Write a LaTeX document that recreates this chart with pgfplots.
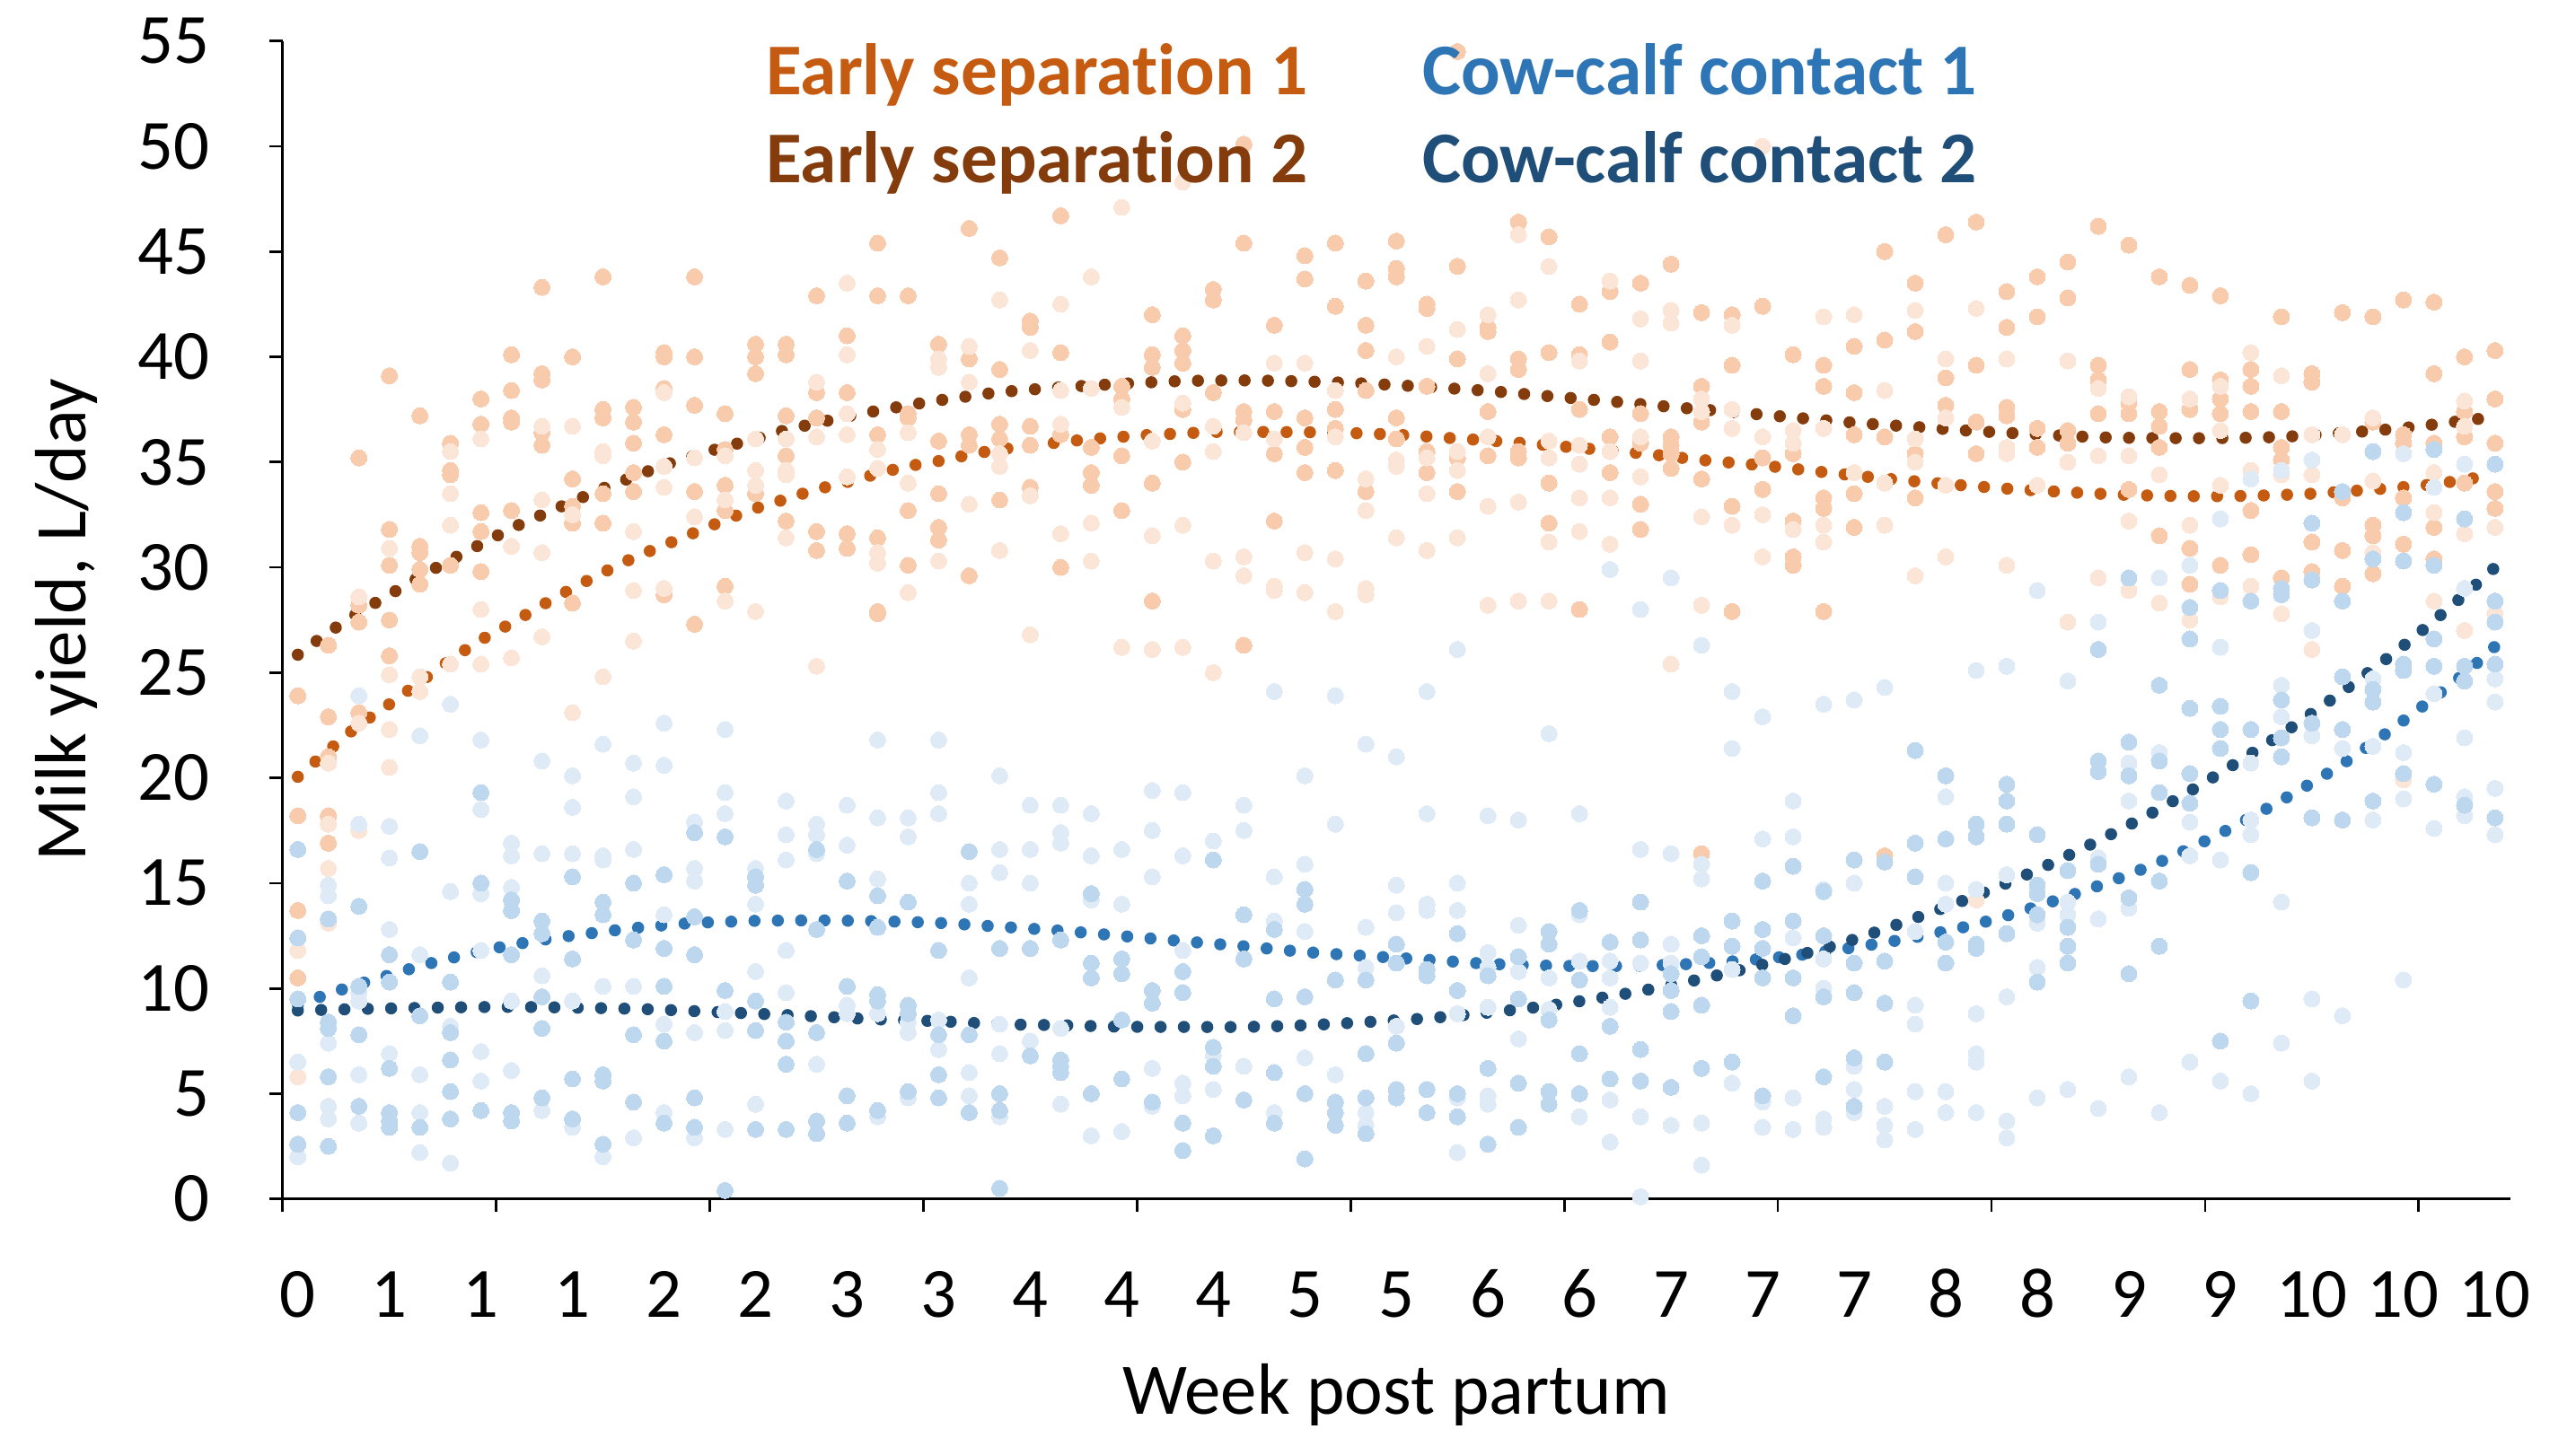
\documentclass[border=0pt]{standalone}
\usepackage{fontspec}
\setmainfont{Carlito}[Ligatures={NoCommon}]
\usepackage{pgfplots}
\pgfplotsset{compat=1.18}
\definecolor{esA}{HTML}{C55A11}
\definecolor{esB}{HTML}{843C0C}
\definecolor{ccA}{HTML}{2E75B6}
\definecolor{ccB}{HTML}{1F4E79}
\definecolor{oM}{HTML}{F8CBAD}
\definecolor{oL}{HTML}{FBE5D6}
\definecolor{bM}{HTML}{BDD7EE}
\definecolor{bL}{HTML}{DEEBF7}
\newcommand{\bigfont}{\fontsize{21.5pt}{26pt}\selectfont}
\newcommand{\labfont}{\fontsize{22.1pt}{26pt}\selectfont}
\newcommand{\legfont}{\fontsize{22.2pt}{26pt}\selectfont}
\begin{document}
\begin{tikzpicture}
\path[use as bounding box] (-86pt,-70pt) rectangle (698pt,365pt);
\begin{axis}[
  at={(0,0)}, anchor=south west,
  scale only axis, width=678pt, height=352.5pt,
  xmin=0.5, xmax=73.5, ymin=0, ymax=55,
  clip=false,
  axis x line*=bottom, axis y line*=left,
  axis line style={line width=0.75pt, black},
  tick align=outside, major tick length=4pt,
  tick style={line width=0.75pt, black},
  xtick={0.5,7.5,...,70.5}, xticklabels={},
  extra x ticks={1,4,...,73},
  extra x tick labels={0,1,1,1,2,2,3,3,4,4,4,5,5,6,6,7,7,7,8,8,9,9,10,10,10},
  extra x tick style={major tick length=0pt, grid=none},
  ytick={0,5,...,55},
  /pgf/number format/assume math mode=true,
  tick label style={font=\bigfont, text=black},
  yticklabel style={anchor=east, inner sep=0pt, xshift=-18pt},
  xticklabel style={anchor=base, inner sep=0pt, yshift=-36pt},
  every axis x label/.style={at={(axis description cs:0.5,-0.1858)}, anchor=base, font=\labfont},
  every axis y label/.style={at={(axis description cs:-0.0885,0.5)}, anchor=base, rotate=90, font=\labfont},
  xlabel={Week post partum},
  ylabel={Milk yield, L/day},
  mark size=2.45pt,
  scatter/.style={only marks, mark=*, line width=0pt, color=#1, mark options={fill=#1, draw=#1, line width=0pt}},
  trend/.style={smooth, no marks, color=#1, line width=3.7pt, line cap=round, dash pattern=on 0pt off 7.1pt},
]
% Early separation scatter (medium shade)
\addplot[scatter=oM] coordinates {
(1,23.9)(1,18.2)(1,13.7)(1,10.5)
(2,26.3)(2,22.9)(2,21.0)(2,18.2)(2,16.9)
(3,35.2)(3,28.2)(3,27.4)(3,23.1)
(4,39.1)(4,31.8)(4,30.1)(4,27.5)(4,25.8)
(5,37.2)(5,31.0)(5,30.7)(5,29.9)(5,29.2)
(6,35.9)(6,34.6)(6,34.4)(6,30.1)
(7,38.0)(7,36.8)(7,32.6)(7,31.7)(7,29.8)
(8,40.1)(8,38.4)(8,37.1)(8,36.9)(8,32.7)
(9,43.3)(9,39.2)(9,38.9)(9,36.4)(9,35.8)
(10,40.0)(10,34.2)(10,32.9)(10,32.1)(10,28.3)
(11,43.8)(11,37.5)(11,37.1)(11,33.5)(11,32.1)
(12,37.6)(12,36.9)(12,35.9)(12,34.5)(12,33.6)
(13,40.2)(13,40.0)(13,38.5)(13,36.3)(13,28.7)
(14,43.8)(14,40.0)(14,37.7)(14,33.6)(14,27.3)
(15,37.3)(15,35.6)(15,33.9)(15,32.7)(15,29.1)
(16,40.6)(16,40.0)(16,39.2)(16,33.5)
(17,40.6)(17,40.1)(17,37.2)(17,35.3)(17,32.2)
(18,42.9)(18,38.3)(18,37.1)(18,31.7)(18,30.8)
(19,41.0)(19,38.3)(19,31.6)(19,30.9)
(20,45.4)(20,42.9)(20,36.3)(20,31.4)(20,27.9)(20,27.8)
(21,42.9)(21,37.3)(21,37.1)(21,32.7)(21,30.1)
(22,40.6)(22,36.0)(22,33.5)(22,31.9)(22,31.3)
(23,46.1)(23,39.9)(23,36.3)(23,35.8)(23,29.6)
(24,44.7)(24,39.4)(24,36.8)(24,36.1)(24,33.2)
(25,41.7)(25,41.4)(25,36.7)(25,35.8)(25,33.8)
(26,46.7)(26,40.2)(26,36.3)(26,30.0)
(27,35.7)(27,34.5)(27,33.9)
(28,38.6)(28,38.0)(28,35.3)(28,32.7)
(29,42.0)(29,40.1)(29,39.5)(29,34.0)(29,28.4)
(30,41.0)(30,40.3)(30,39.7)(30,37.5)(30,35.0)
(31,43.2)(31,42.7)(31,38.3)
(32,50.1)(32,45.4)(32,37.4)(32,37.0)(32,26.3)
(33,41.5)(33,37.4)(33,35.4)(33,32.2)
(34,44.8)(34,43.7)(34,37.1)(34,35.7)(34,34.5)
(35,45.4)(35,42.4)(35,37.5)(35,36.6)(35,34.6)
(36,43.6)(36,41.5)(36,40.3)(36,38.4)(36,33.6)
(37,45.5)(37,44.2)(37,43.8)(37,37.1)(37,36.1)
(38,42.5)(38,42.3)(38,38.6)(38,35.5)(38,34.5)
(39,54.5)(39,44.3)(39,39.9)(39,35.2)(39,33.6)
(40,41.4)(40,41.2)(40,37.4)(40,35.3)
(41,46.4)(41,39.9)(41,39.4)(41,35.5)(41,35.2)
(42,45.7)(42,40.2)(42,34.0)(42,32.1)
(43,42.5)(43,40.1)(43,37.5)(43,28.0)
(44,43.1)(44,40.7)(44,36.2)(44,34.5)
(45,43.5)(45,37.3)(45,35.9)(45,33.0)(45,31.8)
(46,44.4)(46,36.2)(46,35.8)(46,35.4)(46,34.7)
(47,42.1)(47,38.6)(47,36.9)(47,34.2)(47,16.4)
(48,42.0)(48,39.6)(48,32.9)(48,27.9)
(49,42.4)(49,35.2)(49,33.7)
(50,40.1)(50,35.4)(50,32.2)(50,30.5)(50,30.1)
(51,39.6)(51,38.6)(51,33.3)(51,32.8)(51,27.9)
(52,40.5)(52,38.3)(52,36.3)(52,33.5)(52,31.9)
(53,45.0)(53,40.8)(53,36.2)(53,16.3)
(54,43.5)(54,41.2)(54,35.4)(54,33.3)
(55,45.8)(55,39.0)(55,37.7)
(56,46.4)(56,39.6)(56,36.9)(56,35.4)
(57,43.1)(57,41.4)(57,37.6)(57,37.2)
(58,43.8)(58,41.9)(58,36.6)(58,35.7)
(59,44.5)(59,42.8)(59,36.5)(59,35.9)
(60,46.2)(60,39.6)(60,38.9)(60,37.3)
(61,45.3)(61,37.8)(61,37.3)(61,33.7)
(62,43.8)(62,37.4)(62,36.7)(62,35.7)(62,31.5)
(63,43.4)(63,39.4)(63,37.5)(63,30.9)(63,29.2)
(64,42.9)(64,38.9)(64,38.0)(64,37.3)(64,30.1)
(65,39.4)(65,38.6)(65,37.4)(65,32.7)(65,30.6)
(66,41.9)(66,37.4)(66,35.7)(66,35.1)(66,29.5)
(67,39.2)(67,38.8)(67,31.2)(67,29.8)
(68,42.1)(68,33.3)(68,30.8)(68,29.1)
(69,41.9)(69,36.9)(69,32.0)(69,31.5)(69,29.7)
(70,42.7)(70,36.3)(70,35.9)(70,33.3)(70,31.1)
(71,42.6)(71,39.2)(71,35.9)(71,31.9)(71,30.4)
(72,40.0)(72,37.4)(72,36.2)(72,34.0)
(73,40.3)(73,38.0)(73,35.9)(73,33.6)(73,32.8)
};
% Early separation scatter (light shade)
\addplot[scatter=oL] coordinates {
(1,11.8)(1,5.8)
(2,20.7)(2,17.8)(2,15.7)(2,13.1)
(3,28.6)(3,22.6)(3,17.5)
(4,30.9)(4,24.9)(4,22.3)(4,20.5)
(5,24.8)(5,24.1)
(6,35.5)(6,33.5)(6,32.0)(6,25.4)
(7,36.1)(7,28.0)(7,25.4)
(8,31.0)(8,25.7)
(9,36.7)(9,33.2)(9,30.7)(9,26.7)
(10,36.7)(10,32.5)(10,23.1)
(11,35.5)(11,35.3)(11,24.8)
(12,31.7)(12,28.9)(12,26.5)
(13,38.3)(13,34.8)(13,33.8)(13,29.0)
(14,35.2)(14,32.4)
(15,35.3)(15,33.2)(15,28.4)
(16,36.1)(16,34.6)(16,33.9)(16,27.9)
(17,36.1)(17,34.6)(17,34.4)(17,31.4)
(18,38.8)(18,36.2)(18,25.3)
(19,43.5)(19,40.1)(19,37.3)(19,36.3)(19,34.3)
(20,35.6)(20,34.7)(20,30.7)(20,30.2)
(21,36.4)(21,34.0)(21,28.8)
(22,39.9)(22,39.5)(22,30.3)
(23,40.5)(23,38.8)(23,33.0)
(24,42.7)(24,35.4)(24,34.8)(24,30.8)
(25,40.3)(25,33.4)(25,26.8)
(26,42.5)(26,38.4)(26,36.8)(26,31.6)
(27,43.8)(27,38.5)(27,32.1)(27,30.3)
(28,47.1)(28,37.6)(28,26.2)
(29,36.0)(29,31.5)(29,26.1)
(30,48.3)(30,37.8)(30,32.0)(30,26.2)
(31,36.7)(31,35.5)(31,30.3)(31,25.0)
(32,36.4)(32,30.5)(32,29.6)
(33,39.7)(33,36.1)(33,29.1)(33,28.9)
(34,39.7)(34,30.7)(34,28.8)
(35,38.4)(35,36.2)(35,30.4)(35,27.9)
(36,34.2)(36,32.7)(36,29.0)(36,28.7)
(37,40.0)(37,35.1)(37,34.8)(37,31.4)
(38,40.5)(38,35.2)(38,33.5)(38,30.8)
(39,41.3)(39,35.5)(39,34.6)(39,31.4)
(40,42.0)(40,39.2)(40,36.2)(40,32.9)(40,28.2)
(41,45.8)(41,42.7)(41,33.1)(41,28.4)
(42,44.3)(42,36.0)(42,35.2)(42,31.2)(42,28.4)
(43,39.8)(43,35.8)(43,34.9)(43,33.3)(43,31.7)
(44,43.6)(44,35.5)(44,33.3)(44,31.1)
(45,41.8)(45,39.8)(45,36.2)(45,34.3)
(46,42.2)(46,41.6)(46,25.4)
(47,38.0)(47,37.4)(47,32.4)(47,28.2)
(48,41.5)(48,37.5)(48,36.6)(48,32.0)
(49,50.0)(49,36.2)(49,32.5)(49,30.5)
(50,36.5)(50,35.9)(50,31.8)
(51,41.9)(51,36.6)(51,32.0)(51,31.2)
(52,42.0)(52,34.5)
(53,38.4)(53,34.0)(53,32.0)
(54,42.2)(54,36.1)(54,35.0)(54,29.6)
(55,39.9)(55,37.1)(55,33.9)(55,30.5)
(56,42.3)(56,14.2)
(57,39.9)(57,35.7)(57,35.4)(57,30.1)
(58,33.9)
(59,39.8)(59,35.0)(59,27.4)
(60,38.5)(60,35.3)(60,29.5)
(61,38.1)(61,35.3)(61,32.2)(61,28.9)
(62,34.4)(62,28.3)
(63,38.0)(63,32.0)(63,27.5)
(64,38.6)(64,36.5)(64,33.9)(64,28.6)
(65,40.2)(65,34.6)(65,29.1)
(66,39.1)(66,34.4)(66,27.8)
(67,36.3)(67,34.4)(67,26.1)
(68,36.3)
(69,37.1)(69,34.1)(69,30.7)
(70,19.9)
(71,34.5)(71,32.6)(71,28.4)
(72,37.9)(72,36.7)(72,31.6)(72,27.0)
(73,31.9)(73,27.8)
};
% Cow-calf contact scatter (light shade)
\addplot[scatter=bL] coordinates {
(1,6.5)(1,2.0)
(2,14.9)(2,14.4)(2,7.4)(2,4.4)(2,3.8)
(3,23.9)(3,17.8)(3,9.8)(3,9.4)(3,5.9)(3,3.6)
(4,17.7)(4,16.2)(4,12.8)(4,6.9)
(5,22.0)(5,11.6)(5,5.9)(5,4.1)(5,2.2)
(6,23.5)(6,14.6)(6,8.2)(6,1.7)
(7,21.8)(7,18.5)(7,14.5)(7,11.8)(7,7.0)(7,5.6)
(8,16.9)(8,16.3)(8,14.8)(8,9.4)(8,6.1)
(9,20.8)(9,16.4)(9,10.6)(9,4.2)
(10,20.1)(10,18.6)(10,16.4)(10,9.4)(10,3.4)
(11,21.6)(11,16.3)(11,16.1)(11,10.1)(11,2.0)
(12,20.7)(12,19.1)(12,16.6)(12,10.1)(12,2.9)
(13,22.6)(13,20.6)(13,13.5)(13,8.3)(13,4.1)
(14,17.9)(14,15.7)(14,15.1)(14,7.9)(14,2.9)
(15,22.3)(15,19.3)(15,18.3)(15,8.9)(15,8.0)(15,3.3)
(16,15.7)(16,14.0)(16,10.8)(16,4.5)
(17,18.9)(17,17.3)(17,16.1)(17,11.8)(17,9.8)
(18,17.8)(18,17.3)(18,16.4)(18,6.4)
(19,18.7)(19,16.8)(19,9.2)(19,8.8)
(20,21.8)(20,18.1)(20,15.2)(20,8.8)(20,3.9)
(21,18.1)(21,17.2)(21,8.4)(21,7.9)(21,4.8)
(22,21.8)(22,19.3)(22,18.3)(22,8.5)(22,7.1)
(23,15.0)(23,14.0)(23,10.5)(23,6.0)(23,4.9)
(24,20.1)(24,16.6)(24,15.5)(24,8.3)(24,6.9)(24,3.9)
(25,18.7)(25,16.6)(25,15.0)(25,7.5)
(26,18.7)(26,17.4)(26,16.9)(26,8.1)(26,4.5)
(27,18.3)(27,16.3)(27,14.2)(27,3.0)
(28,16.6)(28,14.0)(28,3.2)
(29,19.4)(29,17.5)(29,15.3)(29,6.2)(29,4.4)
(30,19.3)(30,16.3)(30,11.8)(30,5.5)(30,4.9)
(31,17.0)(31,6.8)(31,5.2)
(32,18.7)(32,17.5)(32,6.3)
(33,24.1)(33,15.3)(33,13.2)(33,4.1)
(34,20.1)(34,15.9)(34,12.7)(34,6.7)
(35,23.9)(35,17.8)(35,5.9)
(36,21.6)(36,12.9)(36,11.0)(36,4.1)(36,3.5)
(37,21.0)(37,14.9)(37,13.6)(37,8.2)
(38,24.1)(38,18.3)(38,14.0)(38,13.7)
(39,26.1)(39,15.0)(39,13.7)(39,8.8)(39,4.8)(39,2.2)
(40,18.2)(40,11.7)(40,11.0)(40,9.1)(40,4.9)(40,4.5)
(41,18.0)(41,13.0)(41,10.8)(41,7.6)
(42,22.1)(42,10.5)(42,9.0)
(43,18.3)(43,13.5)(43,11.3)(43,3.9)
(44,29.9)(44,11.3)(44,10.5)(44,9.1)(44,4.7)(44,2.7)
(45,28.0)(45,16.6)(45,11.2)(45,3.9)(45,0.1)
(46,29.5)(46,16.4)(46,12.1)(46,11.2)(46,3.5)
(47,26.3)(47,15.9)(47,15.2)(47,3.6)(47,1.6)
(48,24.1)(48,21.4)(48,10.9)(48,5.5)
(49,22.9)(49,17.1)(49,4.6)(49,3.4)
(50,18.9)(50,17.2)(50,12.4)(50,4.8)(50,3.3)
(51,23.5)(51,14.7)(51,11.4)(51,10.0)(51,3.8)(51,3.4)
(52,23.7)(52,15.0)(52,6.3)(52,5.2)(52,4.1)
(53,24.3)(53,4.4)(53,3.5)(53,2.8)
(54,12.7)(54,9.2)(54,8.3)(54,5.1)(54,3.3)
(55,19.1)(55,15.0)(55,14.0)(55,5.1)(55,4.1)
(56,25.1)(56,14.7)(56,8.8)(56,6.9)(56,6.5)(56,4.1)
(57,25.3)(57,15.4)(57,9.6)(57,3.7)(57,2.9)
(58,28.9)(58,13.1)(58,11.0)(58,4.8)
(59,24.6)(59,14.1)(59,13.5)(59,5.2)
(60,27.4)(60,16.2)(60,13.3)(60,4.3)
(61,20.7)(61,18.9)(61,13.8)(61,5.8)
(62,29.5)(62,21.2)(62,4.1)
(63,30.1)(63,17.9)(63,16.3)(63,6.5)
(64,32.3)(64,26.2)(64,16.1)(64,5.6)
(65,34.2)(65,20.7)(65,18.0)(65,17.3)(65,5.0)
(66,34.6)(66,24.4)(66,22.9)(66,14.1)(66,7.4)
(67,35.1)(67,27.0)(67,22.0)(67,9.5)(67,5.6)
(68,21.4)(68,8.7)
(69,24.7)(69,21.5)(69,18.0)
(70,35.4)(70,21.2)(70,19.0)(70,10.4)
(71,33.8)(71,24.0)(71,17.6)
(72,34.9)(72,29.0)(72,21.9)(72,19.1)(72,18.2)
(73,24.7)(73,23.6)(73,19.5)(73,17.3)
};
% Cow-calf contact scatter (medium shade)
\addplot[scatter=bM] coordinates {
(1,16.6)(1,12.4)(1,9.5)(1,4.1)(1,2.6)
(2,13.3)(2,8.4)(2,8.1)(2,5.8)(2,2.5)
(3,13.9)(3,10.1)(3,7.8)(3,4.4)
(4,11.6)(4,10.3)(4,6.2)(4,4.1)(4,3.7)(4,3.4)
(5,16.5)(5,8.7)(5,3.4)
(6,10.3)(6,7.9)(6,6.6)(6,5.1)(6,3.8)
(7,19.3)(7,15.0)(7,4.2)
(8,14.2)(8,13.7)(8,11.6)(8,4.1)(8,3.7)
(9,13.2)(9,12.6)(9,9.6)(9,8.1)(9,4.8)
(10,15.3)(10,11.4)(10,5.7)(10,3.8)
(11,14.1)(11,13.5)(11,5.9)(11,5.6)(11,2.6)
(12,15.0)(12,12.3)(12,7.8)(12,4.6)
(13,15.4)(13,11.9)(13,10.1)(13,7.5)(13,3.6)
(14,17.4)(14,13.4)(14,11.6)(14,4.8)(14,3.4)
(15,17.2)(15,9.9)(15,0.4)
(16,15.3)(16,14.9)(16,9.4)(16,8.0)(16,3.3)
(17,8.4)(17,7.5)(17,6.4)(17,3.3)
(18,16.6)(18,12.8)(18,7.9)(18,3.7)(18,3.1)
(19,15.1)(19,10.1)(19,4.9)(19,3.6)
(20,14.4)(20,12.9)(20,9.7)(20,9.4)(20,4.2)
(21,14.1)(21,9.2)(21,8.8)(21,5.1)
(22,11.8)(22,7.8)(22,5.9)(22,4.8)
(23,16.5)(23,7.8)(23,4.1)
(24,11.9)(24,5.0)(24,4.2)(24,0.5)
(25,11.9)(25,6.8)
(26,12.3)(26,6.6)(26,6.3)(26,6.0)
(27,14.5)(27,11.2)(27,10.5)(27,5.0)
(28,11.4)(28,10.7)(28,8.5)(28,5.7)
(29,9.9)(29,9.3)(29,4.6)
(30,10.8)(30,9.8)(30,3.6)(30,2.3)
(31,16.1)(31,7.2)(31,6.3)(31,3.0)
(32,13.5)(32,11.4)(32,4.7)
(33,12.8)(33,9.5)(33,6.0)(33,3.6)
(34,14.7)(34,14.0)(34,9.6)(34,5.0)(34,1.9)
(35,10.4)(35,4.6)(35,4.1)(35,3.5)
(36,10.4)(36,6.9)(36,4.8)(36,3.1)
(37,12.1)(37,11.2)(37,7.4)(37,5.2)(37,4.8)
(38,10.9)(38,10.6)(38,5.2)(38,4.1)
(39,12.6)(39,9.9)(39,5.0)(39,3.9)
(40,10.6)(40,6.2)(40,2.6)
(41,11.5)(41,9.5)(41,5.5)(41,3.4)
(42,12.7)(42,12.1)(42,8.5)(42,5.1)(42,4.5)
(43,13.7)(43,10.4)(43,6.9)(43,5.0)
(44,12.2)(44,8.2)(44,5.7)
(45,14.1)(45,12.3)(45,7.1)(45,5.6)
(46,10.7)(46,9.9)(46,8.9)(46,5.3)
(47,12.5)(47,11.5)(47,9.2)(47,6.2)
(48,13.2)(48,12.0)(48,6.5)
(49,15.1)(49,12.8)(49,11.9)(49,10.5)(49,4.9)
(50,15.8)(50,13.2)(50,10.5)(50,8.7)
(51,14.6)(51,12.5)(51,9.6)(51,5.8)
(52,16.1)(52,11.2)(52,9.8)(52,6.7)(52,4.4)
(53,16.0)(53,11.3)(53,9.3)(53,6.5)
(54,21.3)(54,16.9)(54,15.3)
(55,20.1)(55,17.1)(55,12.2)(55,11.2)
(56,17.8)(56,17.2)(56,12.1)(56,11.9)
(57,19.7)(57,18.9)(57,17.8)(57,12.6)
(58,17.3)(58,14.9)(58,14.5)(58,13.5)(58,10.3)
(59,15.6)(59,12.9)(59,12.0)(59,11.2)
(60,26.1)(60,20.8)(60,20.3)(60,15.9)
(61,29.5)(61,21.7)(61,20.1)(61,14.3)(61,10.7)
(62,24.4)(62,20.8)(62,19.3)(62,15.1)(62,12.0)
(63,28.1)(63,26.6)(63,23.3)(63,20.2)(63,18.8)
(64,28.9)(64,23.4)(64,22.3)(64,21.4)(64,7.5)
(65,28.4)(65,22.3)(65,15.5)(65,9.4)
(66,29.0)(66,28.7)(66,23.7)(66,21.9)(66,21.0)
(67,32.1)(67,29.4)(67,22.6)(67,18.1)
(68,33.6)(68,28.4)(68,24.8)(68,22.3)(68,18.0)
(69,35.5)(69,30.4)(69,24.2)(69,23.6)(69,18.9)
(70,32.6)(70,30.3)(70,25.4)(70,25.1)(70,20.2)
(71,35.6)(71,30.1)(71,26.6)(71,25.3)(71,19.7)
(72,32.3)(72,25.3)(72,24.6)(72,18.7)
(73,34.9)(73,28.4)(73,27.4)(73,25.4)(73,18.1)
};
% Trend lines
\addplot[trend=esA] coordinates {
(1,20.05)(2,21.3)(3,22.5)(4,23.5)(5,24.55)(6,25.6)(7,26.55)(8,27.35)(9,28.2)(10,29.0)(11,29.75)(12,30.45)(13,31.05)(14,31.65)(15,32.25)(16,32.8)(17,33.25)(18,33.7)(19,34.05)(20,34.45)(21,34.8)(22,35.05)(23,35.35)(24,35.6)(25,35.76)(26,35.95)(27,36.09)(28,36.2)(29,36.3)(30,36.36)(31,36.43)(33,36.43)(35,36.4)(37,36.3)(39,36.12)(41,35.92)(43,35.67)(45,35.42)(47,35.1)(49,34.84)(51,34.52)(53,34.22)(55,33.96)(57,33.74)(59,33.57)(61,33.44)(63,33.38)(65,33.4)(67,33.5)(69,33.7)(71,33.95)(73,34.4)
};
\addplot[trend=esB] coordinates {
(1,25.85)(2,26.9)(3,27.85)(4,28.7)(5,29.55)(6,30.35)(7,31.1)(8,31.85)(9,32.5)(10,33.12)(11,33.75)(12,34.3)(13,34.85)(14,35.3)(15,35.73)(16,36.1)(17,36.53)(18,36.85)(19,37.17)(20,37.44)(21,37.7)(22,37.93)(23,38.13)(24,38.32)(26,38.55)(28,38.72)(30,38.85)(32,38.88)(34,38.83)(36,38.73)(38,38.57)(40,38.38)(42,38.13)(44,37.89)(46,37.62)(48,37.38)(50,37.12)(52,36.87)(54,36.67)(56,36.47)(58,36.32)(60,36.18)(62,36.14)(64,36.14)(66,36.2)(68,36.38)(70,36.62)(72,36.97)(73,37.15)
};
\addplot[trend=ccA] coordinates {
(1,9.22)(2,9.74)(3,10.2)(4,10.63)(5,11.06)(6,11.43)(7,11.77)(8,12.06)(9,12.3)(10,12.51)(11,12.69)(12,12.86)(13,13.0)(14,13.11)(15,13.16)(16,13.21)(18,13.23)(20,13.19)(22,13.11)(24,12.93)(26,12.74)(28,12.49)(30,12.24)(32,12.0)(34,11.73)(36,11.54)(38,11.36)(40,11.17)(42,11.08)(44,11.06)(46,11.12)(48,11.28)(50,11.55)(52,11.95)(54,12.43)(56,13.05)(58,13.9)(60,14.87)(62,16.0)(64,17.36)(66,18.93)(68,20.66)(70,22.72)(72,24.95)(73,26.25)
};
\addplot[trend=ccB] coordinates {
(1,8.95)(4,9.05)(8,9.12)(12,9.03)(14,8.92)(16,8.8)(18,8.67)(20,8.53)(22,8.44)(24,8.3)(26,8.25)(28,8.18)(30,8.17)(32,8.17)(34,8.25)(36,8.4)(38,8.58)(40,8.85)(42,9.18)(44,9.62)(46,10.15)(48,10.78)(50,11.5)(52,12.33)(54,13.34)(56,14.41)(58,15.63)(60,17.02)(62,18.53)(64,20.24)(66,22.08)(68,24.1)(70,26.28)(72,28.7)(73,30.0)
};
\end{axis}
\node[anchor=base west, inner sep=0pt, font=\legfont\bfseries, text=esA] at (147pt,336.25pt) {Early separation 1};
\node[anchor=base west, inner sep=0pt, font=\legfont\bfseries, text=esB] at (147pt,309.45pt) {Early separation 2};
\node[anchor=base west, inner sep=0pt, font=\legfont\bfseries, text=ccA] at (346.7pt,336.25pt) {Cow-calf contact 1};
\node[anchor=base west, inner sep=0pt, font=\legfont\bfseries, text=ccB] at (346.7pt,309.45pt) {Cow-calf contact 2};
\end{tikzpicture}
\end{document}
